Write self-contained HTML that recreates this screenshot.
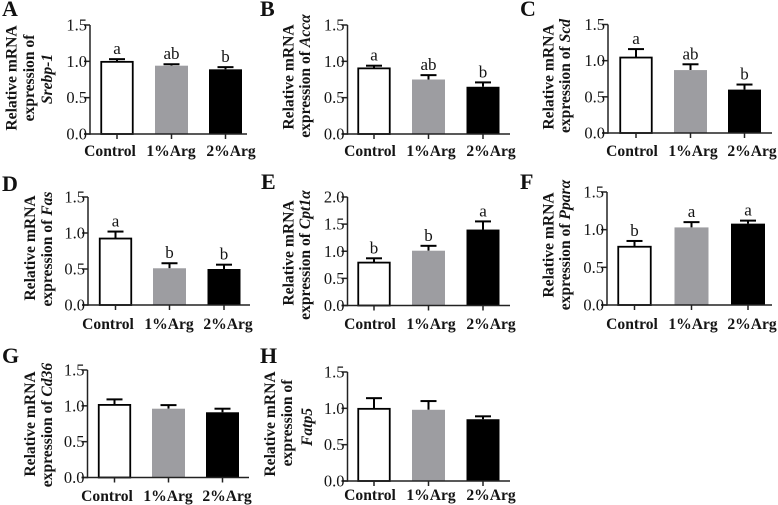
<!DOCTYPE html>
<html>
<head>
<meta charset="utf-8">
<style>
html,body{margin:0;padding:0;background:#fff;}
svg{display:block;filter:blur(0.35px);}
text{font-family:"Liberation Serif",serif;fill:#141414;}
.t{font-weight:bold;font-size:15.6px;text-anchor:middle;}
.l{font-weight:bold;font-size:22px;fill:#111;}
.g{font-style:italic;}
</style>
</head>
<body>
<svg id="fig" width="778" height="505" viewBox="0 0 778 505" xmlns="http://www.w3.org/2000/svg">
<g id="panel-a">
<text class="l" x="2" y="16">A</text>
<text class="t" transform="translate(16.7,78) rotate(-90)">Relative mRNA</text>
<text class="t" transform="translate(34,78) rotate(-90)">expression of</text>
<text class="t g" transform="translate(52,79) rotate(-90)">Srebp-1</text>
</g>
<g id="panel-b">
<text class="l" x="260" y="16">B</text>
<text class="t" transform="translate(293.7,77) rotate(-90)">Relative mRNA</text>
<text class="t" transform="translate(310,76) rotate(-90)">expression of <tspan class="g">Accα</tspan></text>
</g>
<g id="panel-c">
<text class="l" x="520" y="16">C</text>
<text class="t" transform="translate(553.7,77) rotate(-90)">Relative mRNA</text>
<text class="t" transform="translate(570,76) rotate(-90)">expression of <tspan class="g">Scd</tspan></text>
</g>
<g id="panel-d">
<text class="l" x="2" y="191">D</text>
<text class="t" transform="translate(35,248) rotate(-90)">Relative mRNA</text>
<text class="t" transform="translate(52,249) rotate(-90)">expression of <tspan class="g">Fas</tspan></text>
</g>
<g id="panel-e">
<text class="l" x="261" y="189">E</text>
<text class="t" transform="translate(293.7,253) rotate(-90)">Relative mRNA</text>
<text class="t" transform="translate(310,255) rotate(-90)">expression of <tspan class="g">Cpt1α</tspan></text>
</g>
<g id="panel-f">
<text class="l" x="520" y="189">F</text>
<text class="t" transform="translate(553.7,245) rotate(-90)">Relative mRNA</text>
<text class="t" transform="translate(570,245) rotate(-90)">expression of <tspan class="g">Pparα</tspan></text>
</g>
<g id="panel-g">
<text class="l" x="2" y="363">G</text>
<text class="t" transform="translate(35,424) rotate(-90)">Relative mRNA</text>
<text class="t" transform="translate(52,425) rotate(-90)">expression of <tspan class="g">Cd36</tspan></text>
</g>
<g id="panel-h">
<text class="l" x="260" y="363">H</text>
<text class="t" transform="translate(275,424) rotate(-90)">Relative mRNA</text>
<text class="t" transform="translate(292,423) rotate(-90)">expression of</text>
<text class="t g" transform="translate(312,427) rotate(-90)">Fatp5</text>
</g>
</svg>
<script>
// ---- chart data ----
const categories = ['Control', '1%Arg', '2%Arg'];
const ticksDefault = [0, 0.5, 1.0, 1.5];
const ticksCpt1a = [0, 0.5, 1.0, 1.5, 2.0];

const valuesA = [1.00, 0.94, 0.89];
const errorsA = [0.03, 0.02, 0.03];
const lettersA = ['a', 'ab', 'b'];

const valuesB = [0.91, 0.75, 0.65];
const errorsB = [0.03, 0.06, 0.06];
const lettersB = ['a', 'ab', 'b'];

const valuesC = [1.05, 0.87, 0.60];
const errorsC = [0.11, 0.08, 0.07];
const lettersC = ['a', 'ab', 'b'];

const valuesD = [0.93, 0.51, 0.50];
const errorsD = [0.09, 0.07, 0.06];
const lettersD = ['a', 'b', 'b'];

const valuesE = [0.80, 1.01, 1.40];
const errorsE = [0.07, 0.09, 0.15];
const lettersE = ['b', 'b', 'a'];

const valuesF = [0.78, 1.03, 1.08];
const errorsF = [0.07, 0.07, 0.04];
const lettersF = ['b', 'a', 'a'];

const valuesG = [1.02, 0.96, 0.91];
const errorsG = [0.07, 0.05, 0.05];
const lettersG = ['', '', ''];

const valuesH = [1.00, 0.98, 0.85];
const errorsH = [0.14, 0.12, 0.04];
const lettersH = ['', '', ''];

// ---- panel layout (pixels, not data) ----
const fillColors = ['#ffffff', '#9d9da1', '#000000'];
const NS = 'http://www.w3.org/2000/svg';

function mk(parent, tag, attrs, content) {
  const el = document.createElementNS(NS, tag);
  for (const k in attrs) el.setAttribute(k, attrs[k]);
  if (content !== undefined) el.textContent = content;
  parent.appendChild(el);
  return el;
}

function drawPanel(cfg) {
  const g = document.getElementById('panel-' + cfg.id);
  const y = v => cfg.base - (v / cfg.ticks[cfg.ticks.length - 1]) * (cfg.base - cfg.top);
  const barW = cfg.barW;

  cfg.values.forEach((v, i) => {
    const cx = cfg.centers[i];
    const err = v + cfg.errors[i];

    const stem = mk(g, 'line', {x1: cx, x2: cx, y1: y(v), y2: y(err), stroke: '#000', 'stroke-width': 2});
    
    

    const cap = mk(g, 'line', {x1: cx - 8, x2: cx + 8, y1: y(err), y2: y(err), stroke: '#000', 'stroke-width': 2});
    
    

    const outlined = i === 0;
    const bar = mk(g, 'rect', {
      x: cx - barW / 2 + (outlined ? 0.75 : 0),
      y: y(v) + (outlined ? 0.5 : 0),
      width: barW - (outlined ? 1.5 : 0),
      height: cfg.base - y(v) - (outlined ? 0.5 : 0),
      fill: fillColors[i],
      stroke: outlined ? '#000' : 'none',
      'stroke-width': outlined ? 1.8 : 0
    });
    
    

    if (cfg.letters[i]) {
      const letter = mk(g, 'text', {x: cx, y: y(err) - 5, 'text-anchor': 'middle', 'font-size': 17}, cfg.letters[i]);
      
      
    }

    const xt = mk(g, 'line', {x1: cx, x2: cx, y1: cfg.base, y2: cfg.base + 5, stroke: '#222', 'stroke-width': 1.5});
    
    

    const cat = mk(g, 'text', {x: cfg.labelX[i], y: cfg.labelY, 'text-anchor': 'middle', 'font-size': 15.6, 'font-weight': 'bold'}, categories[i]);
    
    
  });

  const yAxis = mk(g, 'line', {x1: cfg.axis, x2: cfg.axis, y1: cfg.top, y2: cfg.base + 0.75, stroke: '#222', 'stroke-width': 1.5});
  
  

  const xAxis = mk(g, 'line', {x1: cfg.axis - 6, x2: cfg.end, y1: cfg.base, y2: cfg.base, stroke: '#222', 'stroke-width': 1.5});
  
  

  cfg.ticks.forEach(t => {
    const yt = mk(g, 'line', {x1: cfg.axis - 6, x2: cfg.axis, y1: y(t), y2: y(t), stroke: '#222', 'stroke-width': 1.5});
    
    

    const lbl = mk(g, 'text', {x: cfg.axis - 3, y: y(t) + 5.5, 'text-anchor': 'end', 'font-size': 16.5}, t.toFixed(1));
    
    
  });
}

drawPanel({id: 'a', axis: 90, top: 25, base: 134, end: 247, barW: 33, centers: [117, 171.5, 225.5], labelX: [110, 171, 231], labelY: 156, ticks: ticksDefault, values: valuesA, errors: errorsA, letters: lettersA});
drawPanel({id: 'b', axis: 347.5, top: 25, base: 134, end: 510, barW: 33, centers: [374, 428.5, 483], labelX: [370, 431, 491], labelY: 156, ticks: ticksDefault, values: valuesB, errors: errorsB, letters: lettersB});
drawPanel({id: 'c', axis: 608, top: 24.5, base: 133, end: 772, barW: 33, centers: [636, 690.5, 744.5], labelX: [632, 693, 752], labelY: 156, ticks: ticksDefault, values: valuesC, errors: errorsC, letters: lettersC});
drawPanel({id: 'd', axis: 88, top: 197, base: 305, end: 250, barW: 33, centers: [115.5, 169.5, 224], labelX: [108, 169, 228], labelY: 329, ticks: ticksDefault, values: valuesD, errors: errorsD, letters: lettersD});
drawPanel({id: 'e', axis: 347.5, top: 197, base: 305.5, end: 510, barW: 33, centers: [374, 428.5, 483], labelX: [370, 431, 491], labelY: 329, ticks: ticksCpt1a, values: valuesE, errors: errorsE, letters: lettersE});
drawPanel({id: 'f', axis: 607, top: 192, base: 305, end: 772, barW: 34, centers: [634.5, 691.5, 748], labelX: [632, 693, 752], labelY: 329, ticks: ticksDefault, values: valuesF, errors: errorsF, letters: lettersF});
drawPanel({id: 'g', axis: 87.5, top: 370, base: 477.5, end: 249, barW: 33, centers: [114.5, 168.5, 222.5], labelX: [107, 168, 227], labelY: 501, ticks: ticksDefault, values: valuesG, errors: errorsG, letters: lettersG});
drawPanel({id: 'h', axis: 347.5, top: 372, base: 481, end: 510, barW: 33, centers: [374, 428.5, 483], labelX: [370, 431, 491], labelY: 500, ticks: ticksDefault, values: valuesH, errors: errorsH, letters: lettersH});
</script>
</body>
</html>
